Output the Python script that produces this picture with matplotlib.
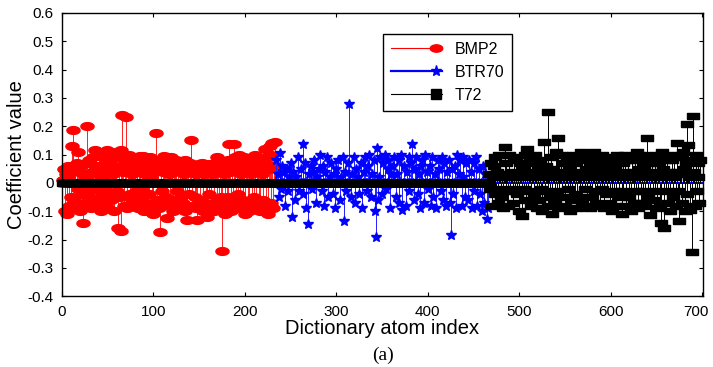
"""Sparse coefficient stem plot for BMP2 / BTR70 / T72 dictionary atoms"""

import numpy as np
import matplotlib
matplotlib.use("Agg")
import matplotlib.pyplot as plt
from matplotlib.path import Path
from matplotlib.lines import Line2D
from matplotlib.legend_handler import HandlerLine2D
from matplotlib.transforms import ScaledTranslation

plt.rcParams['font.family'] = ['Liberation Sans', 'DejaVu Sans']

# Coefficients, one block per class (atoms 1-233, 234-466, 467-698)
bmp2_coef = [
    0.01, 0.05, -0.10, 0.03, -0.11, 0.06, 0.02, -0.08, 0.04, -0.05,
    0.13, 0.187, -0.06, 0.05, -0.09, 0.07, -0.02, 0.11, 0.04, -0.10,
    0.06, -0.04, -0.14, 0.03, -0.07, 0.02, 0.20, -0.05, 0.08, -0.03,
    0.07, -0.09, 0.04, 0.09, -0.06, 0.115, -0.02, 0.03, -0.08, 0.06,
    -0.05, 0.095, -0.10, 0.02, 0.04, -0.07, 0.07, -0.03, 0.115, -0.09,
    0.05, -0.04, 0.08, -0.06, 0.10, 0.03, -0.10, 0.06, 0.11, -0.03,
    -0.16, 0.09, -0.05, 0.115, -0.17, 0.24, 0.04, -0.08, 0.07, 0.233,
    -0.09, 0.05, 0.10, -0.04, 0.08, -0.06, 0.03, 0.09, -0.07, 0.06,
    -0.03, 0.07, -0.09, 0.04, 0.095, -0.05, 0.06, -0.02, 0.095, -0.10,
    0.03, 0.08, -0.07, 0.05, -0.04, 0.09, 0.02, -0.08, 0.06, -0.11,
    0.04, 0.07, 0.177, -0.06, 0.05, -0.09, -0.173, 0.08, -0.03, 0.04,
    -0.07, 0.095, 0.06, -0.05, -0.123, 0.07, 0.03, -0.08, 0.09, 0.05,
    -0.10, 0.04, 0.07, -0.06, 0.08, -0.03, 0.05, -0.09, 0.06, -0.05,
    0.065, -0.07, 0.03, 0.08, -0.10, 0.05, -0.13, 0.06, -0.04, 0.07,
    0.15, -0.08, 0.04, 0.06, -0.05, 0.03, -0.09, -0.13, 0.05, 0.065,
    -0.06, 0.04, 0.07, -0.10, 0.03, 0.06, -0.07, -0.12, 0.05, 0.065,
    -0.04, 0.06, -0.08, 0.03, 0.05, -0.10, 0.07, 0.04, -0.06, 0.09,
    0.05, -0.09, 0.04, -0.05, -0.24, 0.07, 0.03, -0.11, 0.06, -0.07,
    0.08, -0.05, 0.137, 0.04, -0.10, 0.07, -0.06, 0.137, 0.09, -0.08,
    0.05, -0.04, 0.10, 0.06, -0.09, 0.03, 0.07, -0.06, 0.09, -0.11,
    0.04, 0.08, -0.07, 0.06, -0.10, 0.05, 0.03, -0.08, 0.07, -0.05,
    0.10, -0.09, 0.06, 0.04, -0.07, 0.08, -0.10, 0.05, 0.03, -0.06,
    0.07, 0.12, -0.08, 0.09, -0.11, 0.05, 0.13, -0.07, 0.10, 0.14,
    -0.09, 0.06, 0.145,
]

btr70_coef = [
    0.08, 0, 0.03, -0.05, 0.107, 0, -0.02, 0.06, 0, 0.04,
    -0.08, 0, 0.05, -0.03, 0.02, 0, 0.07, 0, -0.12, 0.04,
    0, -0.06, 0.02, 0, 0.09, -0.03, 0, 0.05, 0, 0.137,
    -0.04, 0, 0.07, -0.09, 0, -0.145, 0.03, 0, 0.06, -0.02,
    0, 0.04, 0.08, 0, -0.07, 0.02, 0, 0.05, 0.10, 0,
    -0.03, 0.06, 0, -0.08, 0.04, 0, 0.09, -0.05, 0, 0.02,
    0.07, 0, -0.04, 0.03, 0, -0.09, 0.05, 0, 0.08, 0,
    -0.06, 0.02, 0, 0.09, -0.134, 0, 0.04, -0.03, 0, 0.07,
    0.28, 0, -0.05, 0.03, 0, 0.09, -0.07, 0, 0.05, 0,
    0.02, -0.04, 0, 0.07, -0.09, 0, 0.04, 0.09, 0, -0.03,
    0, 0.06, 0.10, 0, -0.05, 0.03, 0, 0.08, -0.10, -0.19,
    0, 0.123, -0.06, 0.02, 0.09, 0, -0.04, 0.07, 0, 0.10,
    -0.02, 0, 0.08, 0.05, 0, -0.09, 0.03, 0, 0.06, 0.09,
    0, -0.05, 0.03, 0, 0.08, -0.07, 0, 0.10, -0.095, 0,
    0.06, 0, -0.08, 0.04, 0, 0.09, -0.03, 0, 0.07, 0.137,
    0, -0.06, 0.05, 0.09, 0, -0.04, 0.03, 0, -0.09, 0.06,
    0.08, 0, -0.07, 0.10, 0, 0.04, -0.02, 0, 0.06, -0.08,
    0, 0.09, -0.05, 0, 0.03, -0.09, 0, 0.08, 0.05, 0,
    -0.03, 0.09, 0, -0.06, 0.07, 0, -0.08, 0.04, 0, 0.08,
    -0.07, -0.185, 0, 0.05, -0.04, 0, 0.06, -0.09, 0.10, 0,
    0.03, 0.08, 0, -0.08, 0.02, 0.09, 0, -0.05, 0.07, 0,
    -0.06, 0.08, 0, 0.04, -0.09, 0, 0.07, -0.03, 0, 0.09,
    -0.08, 0, 0.05, -0.04, 0, -0.10, 0.06, 0, -0.07, 0.03,
    0, -0.127, -0.09,
]

t72_coef = [
    0.03, -0.02, 0.07, -0.08, 0.02, 0.06, -0.04, 0.09, -0.02, 0.04,
    -0.07, 0.10, 0.02, -0.05, 0.03, -0.09, 0.02, 0.125, -0.03, 0.07,
    0.02, -0.08, 0.10, -0.02, 0.04, 0.03, -0.07, 0.08, -0.03, 0.02,
    0.09, -0.04, 0.02, -0.10, 0.07, 0.03, -0.117, 0.05, -0.02, 0.10,
    -0.06, 0.02, 0.12, -0.03, 0.04, 0.09, -0.08, 0.02, 0.07, -0.04,
    0.10, 0.03, -0.09, 0.05, 0.02, -0.06, 0.08, -0.02, -0.10, 0.04,
    0.145, -0.03, 0.06, 0.02, -0.08, 0.25, 0.03, -0.05, 0.09, -0.11,
    0.05, 0.02, -0.07, 0.11, -0.03, 0.159, 0.02, -0.09, 0.04, 0.10,
    -0.05, 0.07, 0.02, -0.08, 0.03, 0.09, -0.02, 0.05, -0.10, 0.08,
    0.02, -0.06, 0.10, 0.03, -0.04, 0.07, -0.09, 0.04, 0.02, -0.05,
    0.08, 0.11, -0.07, 0.03, 0.09, -0.02, 0.05, -0.08, 0.10, 0.02,
    -0.09, 0.07, 0.03, -0.05, 0.08, 0.11, -0.03, 0.02, -0.07, 0.09,
    0.05, -0.08, 0.02, 0.10, -0.02, 0.07, -0.09, 0.03, 0.08, -0.04,
    0.02, 0.09, -0.07, 0.05, -0.10, 0.03, 0.08, -0.03, 0.06, -0.08,
    0.10, 0.03, -0.05, 0.09, 0.02, -0.11, 0.07, -0.03, 0.04, 0.10,
    -0.08, 0.03, 0.08, -0.05, 0.02, -0.10, 0.09, 0.04, -0.07, 0.02,
    0.08, -0.03, 0.11, -0.09, 0.05, 0.02, -0.07, 0.10, -0.03, 0.06,
    0.03, -0.08, 0.09, 0.16, -0.05, 0.07, -0.115, 0.02, 0.08, -0.06,
    0.04, 0.10, -0.03, 0.02, -0.09, 0.07, 0.03, -0.08, -0.14, 0.11,
    0.05, -0.158, 0.08, -0.03, 0.02, 0.09, -0.07, 0.04, -0.10, 0.03,
    0.08, -0.05, 0.10, 0.02, -0.08, 0.14, 0.04, -0.03, -0.135, 0.09,
    0.03, -0.07, 0.11, 0.05, -0.10, 0.07, 0.208, -0.04, 0.133, 0.02,
    -0.095, 0.08, -0.245, 0.237, 0.04, -0.08, 0.10, -0.03, 0.07, 0.02,
    -0.07, 0.08,
]

class_names = ["BMP2", "BTR70", "T72"]
x_ticks = [0, 100, 200, 300, 400, 500, 600, 700]
y_ticks = [-0.4, -0.3, -0.2, -0.1, 0, 0.1, 0.2, 0.3, 0.4, 0.5, 0.6]
y_tick_labels = ["-0.4", "-0.3", "-0.2", "-0.1", "0", "0.1", "0.2", "0.3", "0.4", "0.5", "0.6"]

# atom indices for each block
n1, n2, n3 = len(bmp2_coef), len(btr70_coef), len(t72_coef)
idx_bmp2 = np.arange(1, n1 + 1)
idx_btr70 = np.arange(n1 + 1, n1 + n2 + 1)
idx_all = np.arange(1, n1 + n2 + n3 + 1)
# T72 coefficient vector over the whole dictionary (zero outside its block)
t72_full = np.concatenate([np.zeros(n1 + n2), t72_coef])

# MATLAB-ish stretched markers
theta = np.linspace(0, 2 * np.pi, 41)
ellipse = Path(np.column_stack([1.7 * np.cos(theta), np.sin(theta)]))
rect = Path([(-1.6, -1), (1.6, -1), (1.6, 1), (-1.6, 1), (-1.6, -1)])


class EndMarkerHandler(HandlerLine2D):
    """Legend entry with the marker at the right end of the line"""
    def create_artists(self, legend, orig_handle, xdescent, ydescent,
                       width, height, fontsize, trans):
        y = height / 2 - ydescent
        line = Line2D([-xdescent, width - xdescent], [y, y])
        self.update_prop(line, orig_handle, legend)
        line.set_marker("None")
        mark = Line2D([width - xdescent - 4], [y])
        self.update_prop(mark, orig_handle, legend)
        mark.set_linestyle("None")
        line.set_transform(trans)
        mark.set_transform(trans)
        return [line, mark]


fig = plt.figure(figsize=(7.13, 3.67), dpi=100)
ax = fig.add_axes([0.087, 0.193, 0.899, 0.772])

# BMP2
ml, sl, bl = ax.stem(idx_bmp2, bmp2_coef, basefmt=" ")
sl.set_color("#ff2020"); sl.set_linewidth(0.7)
ml.set_marker(ellipse); ml.set_markersize(9.5); ml.set_color("red")
ml.set_clip_on(False)

# BTR70
ml, sl, bl = ax.stem(idx_btr70, btr70_coef, basefmt=" ")
sl.set_color("#2020ff"); sl.set_linewidth(0.7)
ml.set_marker("*"); ml.set_markersize(7.5); ml.set_color("blue")

# zero line visible where the T72 zeros do not cover it
ax.axhline(0, color="blue", lw=1.4, zorder=2.5)

# T72
ml, sl, bl = ax.stem(idx_all, t72_full, basefmt=" ")
sl.set_color("black"); sl.set_linewidth(0.7); sl.set_zorder(2.6)
ml.set_marker(rect); ml.set_markersize(8); ml.set_color("black")
ml.set_zorder(3); ml.set_clip_on(False)

ax.set_xlim(0, 701)
ax.set_ylim(-0.4, 0.6)
ax.set_xticks(x_ticks)
ax.set_yticks(y_ticks)
ax.set_yticklabels(y_tick_labels)
ax.tick_params(direction="in", length=3, top=True, right=True, labelsize=11)
ax.tick_params(axis="y", pad=6)
ax.tick_params(axis="x", pad=6)
for s in ax.spines.values():
    s.set_linewidth(1.0)

# nudge the last x label inwards so it stays inside the figure
last = ax.get_xticklabels()[-1]
last.set_transform(last.get_transform() + ScaledTranslation(-6 / 100, 0, fig.dpi_scale_trans))

ax.set_xlabel("Dictionary atom index", fontsize=14.5, labelpad=0)
ax.set_ylabel("Coefficient value", fontsize=14.5, labelpad=1)

handles = [
    Line2D([], [], color="red", lw=0.8, marker=ellipse, ms=9, mfc="red", mec="red"),
    Line2D([], [], color="blue", lw=1.6, marker="*", ms=8, mfc="blue", mec="blue"),
    Line2D([], [], color="black", lw=0.8, marker="s", ms=7, mfc="black", mec="black"),
]
leg = ax.legend(handles, class_names, loc="upper left", bbox_to_anchor=(0.50, 0.926),
                borderaxespad=0, fontsize=11.5, handlelength=3.2, handletextpad=0.8,
                borderpad=0.5, labelspacing=0.5, fancybox=False, framealpha=1,
                handler_map={Line2D: EndMarkerHandler()})
leg.get_frame().set_edgecolor("black")
leg.get_frame().set_linewidth(1.0)

fig.text(0.537, 0.033, "(a)", fontsize=14, family="Liberation Serif", ha="center", va="center")

fig.savefig("out.png", dpi=100)
